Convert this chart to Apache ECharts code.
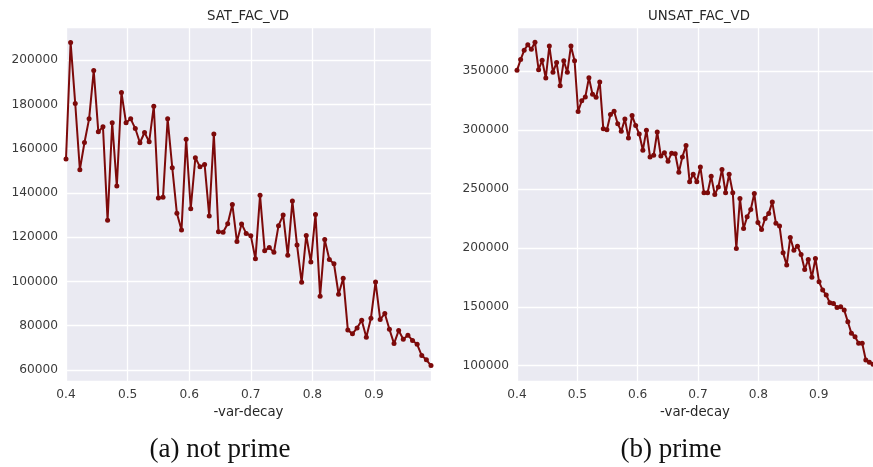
<!DOCTYPE html>
<html>
<head>
<meta charset="utf-8">
<script src="https://cdn.jsdelivr.net/npm/echarts@6/dist/echarts.min.js"></script>
<style>
html,body{margin:0;padding:0;background:#fff;}
#c{width:873px;height:467px;}
</style>
</head>
<body>
<div id="c"></div>
<script>
// var-decay values (x) for the two runs
const xsSat = [0.4,0.4075,0.415,0.4225,0.43,0.4375,0.445,0.4525,0.46,0.4675,0.475,0.4825,0.49,0.4975,0.505,0.5125,0.52,0.5275,0.535,0.5425,0.55,0.5575,0.565,0.5725,0.58,0.5875,0.595,0.6025,0.61,0.6175,0.625,0.6325,0.64,0.6475,0.655,0.6625,0.67,0.6775,0.685,0.6925,0.7,0.7075,0.715,0.7225,0.73,0.7375,0.745,0.7525,0.76,0.7675,0.775,0.7825,0.79,0.7975,0.805,0.8125,0.82,0.8275,0.835,0.8425,0.85,0.8575,0.865,0.8725,0.88,0.8875,0.895,0.9025,0.91,0.9175,0.925,0.9325,0.94,0.9475,0.955,0.9625,0.97,0.9775,0.985,0.9925];
const satValues = [155300,208000,180400,150500,162800,173500,195300,167600,169900,127600,171700,143100,185400,171700,173500,169100,162700,167300,163100,179200,137700,138000,173500,151400,130800,123200,164300,132900,155900,151800,152900,129600,166600,122500,122200,126100,134800,118000,126000,121700,120700,110200,138900,113900,115300,113200,125200,130000,111800,136300,116500,99600,120800,108800,130300,93300,118900,109900,108000,94200,101400,78100,76300,79000,82500,74800,83400,99800,82800,85500,78400,71900,77800,73900,75700,73300,71600,66500,64600,62000];

const xsUnsat = [0.4,0.406,0.4119,0.4179,0.4238,0.4298,0.4358,0.4417,0.4477,0.4536,0.4596,0.4656,0.4715,0.4775,0.4834,0.4894,0.4954,0.5013,0.5073,0.5132,0.5192,0.5252,0.5311,0.5371,0.543,0.549,0.5549,0.5609,0.5669,0.5728,0.5788,0.5847,0.5907,0.5967,0.6026,0.6086,0.6145,0.6205,0.6265,0.6324,0.6384,0.6443,0.6503,0.6563,0.6622,0.6682,0.6741,0.6801,0.6861,0.692,0.698,0.7039,0.7099,0.7159,0.7218,0.7278,0.7337,0.7397,0.7457,0.7516,0.7576,0.7635,0.7695,0.7755,0.7814,0.7874,0.7933,0.7993,0.8053,0.8112,0.8172,0.8231,0.8291,0.8351,0.841,0.847,0.8529,0.8589,0.8648,0.8708,0.8768,0.8827,0.8887,0.8946,0.9006,0.9066,0.9125,0.9185,0.9244,0.9304,0.9364,0.9423,0.9483,0.9542,0.9602,0.9662,0.9721,0.9781,0.984,0.99];
const unsatValues = [350800,359900,367800,372500,368700,374600,351400,359300,344300,371500,349200,357400,337800,359000,349200,371500,359000,315800,325000,328100,344500,330400,327900,341000,301300,300400,313300,316100,305500,299100,309400,293400,312400,303900,296700,283000,300000,277300,278700,298500,278000,280800,273700,280500,280000,264300,277300,287000,256100,262600,256100,268800,246800,246800,260900,245300,251800,266600,246800,262600,246800,199600,242000,216500,226400,232600,246200,221600,215700,225000,229300,238900,221000,218700,195800,185400,208900,198100,201500,194500,181700,190200,175000,191100,171200,164200,160000,153400,152900,149500,150000,147200,137300,127500,124600,119000,119000,104800,103000,101300];

const titles = ['SAT_FAC_VD', 'UNSAT_FAC_VD'];
const captions = ['(a) not prime', '(b) prime'];
const xName = '-var-decay';

const chart = echarts.init(document.getElementById('c'), null, {renderer: 'canvas'});
const lineColor = '#7d0a0a';
const txt = '#3a3a3a';
const FONT = 'DejaVu Sans';

function xAxis(idx, max) {
  return {
    type: 'value', gridIndex: idx, min: 0.4, max: max, interval: 0.1,
    axisLine: {show: false}, axisTick: {show: false},
    splitLine: {show: true, lineStyle: {color: '#ffffff', width: 1.3}},
    axisLabel: {color: txt, fontSize: 12.2, fontFamily: FONT, margin: 8, showMaxLabel: false, showMinLabel: true,
      formatter: v => (Math.round(v * 10) / 10).toFixed(1)},
    name: xName, nameLocation: 'middle', nameGap: 24,
    nameTextStyle: {color: '#262626', fontSize: 13.3, fontFamily: FONT}
  };
}
function yAxis(idx, min, max, split) {
  return {
    type: 'value', gridIndex: idx, min: min, max: max, splitNumber: split,
    axisLine: {show: false}, axisTick: {show: false},
    splitLine: {show: true, lineStyle: {color: '#ffffff', width: 1.3}},
    axisLabel: {color: txt, fontSize: 12.2, fontFamily: FONT, margin: 8, showMinLabel: false, showMaxLabel: false,
      formatter: v => String(Math.round(v))}
  };
}
function series(idx, xs, ys) {
  return {
    type: 'line', xAxisIndex: idx, yAxisIndex: idx,
    data: xs.map((x, i) => [x, ys[i]]),
    symbol: 'circle', symbolSize: 5, showSymbol: true, clip: true,
    lineStyle: {color: lineColor, width: 2},
    itemStyle: {color: lineColor},
    animation: false, silent: true
  };
}

chart.setOption({
  animation: false,
  backgroundColor: '#ffffff',
  grid: [
    {left: 66, top: 27, width: 365, height: 354, show: true, backgroundColor: '#EAEAF2', borderWidth: 0},
    {left: 517, top: 27, width: 364, height: 354, show: true, backgroundColor: '#EAEAF2', borderWidth: 0}
  ],
  xAxis: [xAxis(0, 0.9925), xAxis(1, 0.99)],
  yAxis: [yAxis(0, 55000, 215000, 8), yAxis(1, 87000, 387600, 6)],
  series: [series(0, xsSat, satValues), series(1, xsUnsat, unsatValues)],
  graphic: [
    {type: 'text', x: 248, y: 17, style: {text: titles[0], fill: '#262626', font: '13.3px "DejaVu Sans"', align: 'center', verticalAlign: 'middle'}},
    {type: 'text', x: 699, y: 17, style: {text: titles[1], fill: '#262626', font: '13.3px "DejaVu Sans"', align: 'center', verticalAlign: 'middle'}},
    {type: 'text', x: 220, y: 450, style: {text: captions[0], fill: '#111111', font: '27px "Liberation Serif"', align: 'center', verticalAlign: 'middle'}},
    {type: 'text', x: 671, y: 450, style: {text: captions[1], fill: '#111111', font: '27px "Liberation Serif"', align: 'center', verticalAlign: 'middle'}}
  ]
});
</script>
</body>
</html>
